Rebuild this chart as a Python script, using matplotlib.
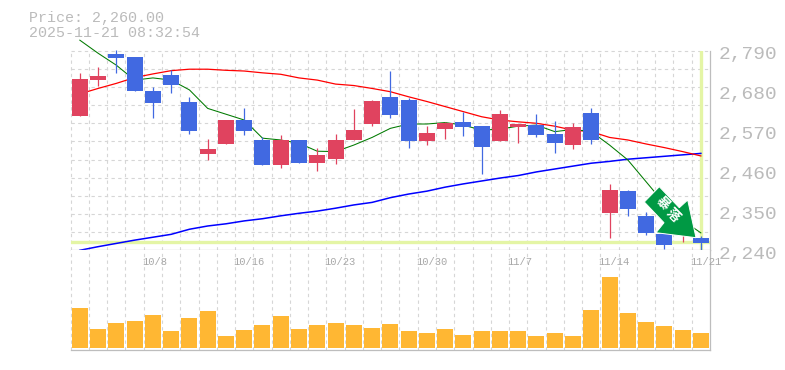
import matplotlib
matplotlib.use("Agg")
import matplotlib.pyplot as plt
import matplotlib.patches as mpatches
import matplotlib.transforms as mtrans
import numpy as np

plt.rcParams['font.family'] = ['Liberation Mono', 'DejaVu Sans Mono']

opens = [2610, 2709, 2781, 2772, 2679, 2723, 2649, 2505, 2533, 2599, 2544, 2475,
         2544, 2480, 2491, 2544, 2588, 2662, 2654, 2541, 2574, 2593, 2582, 2541,
         2580, 2585, 2560, 2530, 2618, 2343, 2403, 2334, 2285, 2285, 2274]
closes = [2712, 2720, 2770, 2679, 2646, 2695, 2569, 2519, 2599, 2569, 2475, 2544,
          2480, 2503, 2544, 2571, 2651, 2613, 2541, 2563, 2591, 2580, 2525, 2615,
          2588, 2558, 2535, 2580, 2544, 2406, 2354, 2288, 2255, 2300, 2260]
highs = [2728, 2745, 2792, 2772, 2690, 2737, 2662, 2547, 2599, 2632, 2552, 2558,
         2544, 2522, 2560, 2629, 2654, 2734, 2660, 2582, 2593, 2621, 2582, 2626,
         2588, 2615, 2596, 2591, 2632, 2423, 2406, 2345, 2285, 2310, 2280]
lows = [2610, 2693, 2728, 2679, 2604, 2673, 2560, 2489, 2533, 2558, 2475, 2467,
        2480, 2458, 2478, 2544, 2582, 2604, 2522, 2530, 2547, 2555, 2450, 2541,
        2535, 2552, 2508, 2519, 2533, 2273, 2334, 2282, 2243, 2263, 2241]
volumes = [40, 19, 25, 27, 33, 17, 30, 37, 12, 18, 23, 32, 19, 23, 25, 23, 20, 24,
           17, 15, 19, 13, 17, 17, 17, 12, 15, 12, 38, 71, 35, 26, 22, 18, 15]

ma_green = [2819, 2783, 2750, 2709, 2715, 2709, 2682, 2631, 2615, 2599, 2549, 2544,
            2535, 2513, 2512, 2530, 2551, 2576, 2588, 2588, 2592, 2585, 2571, 2574,
            2582, 2585, 2567, 2573, 2567, 2530, 2489, 2429, 2369, 2323, 2288]
ma_red = [2671, 2686, 2700, 2716, 2726, 2735, 2739, 2739, 2736, 2734, 2729, 2725,
          2715, 2709, 2698, 2694, 2686, 2677, 2663, 2650, 2636, 2622, 2608, 2599,
          2594, 2590, 2582, 2571, 2567, 2551, 2544, 2533, 2523, 2512, 2500]
ma_blue = [2240, 2250, 2259, 2268, 2276, 2284, 2298, 2307, 2313, 2321, 2327, 2335,
           2342, 2348, 2356, 2365, 2372, 2385, 2395, 2403, 2414, 2423, 2431, 2439,
           2446, 2456, 2464, 2472, 2480, 2485, 2491, 2495, 2499, 2503, 2507]

price_labels = [2240, 2350, 2460, 2570, 2680, 2790]
date_idx = [4, 9, 14, 19, 24, 29, 34]
date_labels = ["10/8", "10/16", "10/23", "10/30", "11/7", "11/14", "11/21"]
current_price = 2260

GRID = "#d6d6d6"
FRAME = "#bdbdbd"
TEXT = "#bbbbbb"
RED = "#e0435f"
BLUE = "#4169e1"
LIME = "#e4f5a5"
DASH = (0, (3, 3))

W, H = 785, 370
fig = plt.figure(figsize=(W / 100, H / 100), dpi=100, facecolor="white")


def px_rect(left, top, right, bottom):
    return [left / W, 1 - bottom / H, (right - left) / W, (bottom - top) / H]


ax = fig.add_axes(px_rect(70.7, 50.7, 710, 250.3))
vol = fig.add_axes(px_rect(70.7, 250.3, 710, 350), sharex=ax)
xs = np.arange(len(opens))

for a in (ax, vol):
    a.set_xlim(-0.5, 34.5)
    a.set_xticks(xs[:-1] + 0.5, minor=True)
    a.set_xticks([])
    a.set_axisbelow(True)
    a.grid(True, axis="x", which="minor", color=GRID, lw=0.8, ls=DASH)
    a.tick_params(which="both", length=0, labelbottom=False, labelleft=False)
    for s in ("top", "left"):
        a.spines[s].set_visible(False)
    a.spines["right"].set_color(FRAME)
    a.spines["bottom"].set_color(FRAME)
    a.spines["right"].set_linewidth(0.9)
    a.spines["bottom"].set_linewidth(0.9)
    # dashed left edge, like the other vertical grid lines
    a.axvline(-0.5, color=GRID, lw=0.8, ls=DASH, zorder=0.5, clip_on=False)

# Price panel
ax.set_ylim(2240, 2790)
ax.set_yticks(np.arange(2240, 2791, 50), minor=True)
ax.grid(True, axis="y", which="minor", color=GRID, lw=0.8, ls=DASH)
ax.axhline(2790, color=GRID, lw=0.8, ls=DASH, zorder=0.5, clip_on=False)
ax.yaxis.tick_right()
ax.set_yticks(price_labels)
ax.set_yticklabels([f"{p:,}" for p in price_labels], fontsize=14, color=TEXT)
ax.tick_params(axis="y", which="major", pad=6.5, labelright=True, labelleft=False)
down = mtrans.ScaledTranslation(0, -2 / 100, fig.dpi_scale_trans)
for lab in ax.get_yticklabels():
    lab.set_transform(lab.get_transform() + down)

ax.axhline(current_price + 2, color=LIME, lw=2.4, zorder=1)
ax.axvline(xs[-1], color=LIME, lw=2.4, zorder=1)

ax.plot(xs, ma_blue, color="#0000ff", lw=1.1, zorder=2)
ax.plot(xs, ma_red, color="#ff0000", lw=0.9, zorder=2)
ax.plot(xs, ma_green, color="#007a00", lw=0.75, zorder=2, clip_on=False)

colors = [RED if c >= o else BLUE for o, c in zip(opens, closes)]
ax.vlines(xs, lows, highs, colors=colors, lw=0.9, zorder=3, clip_on=False)
tops = np.maximum(opens, closes)
bots = np.minimum(opens, closes)
ax.bar(xs, tops - bots, bottom=bots, width=0.875, color=colors, zorder=4, linewidth=0)

# Volume panel
vol.set_ylim(-2, 97.7)
vol.set_yticks([])
vol.bar(xs, volumes, width=0.875, color="#ffb733", zorder=3, linewidth=0)
for i, lab in zip(date_idx, date_labels):
    vol.annotate(lab, xy=(i, 1), xycoords=vol.get_xaxis_transform(),
                 xytext=(-7.9, -8.6), textcoords="offset points",
                 ha="left", va="center", fontsize=7.6, color="#a8a8a8")

# Signal arrow, sits over the candles
arrow_px = [(659.3, 186.7), (644.3, 202), (664, 222.7), (656, 232.7),
            (696, 237.7), (687.7, 200), (679.3, 207.7)]
arrow_fig = [(x / W, 1 - y / H) for x, y in arrow_px]
fig.add_artist(mpatches.Polygon(arrow_fig, closed=True, transform=fig.transFigure,
                                facecolor="#009944", edgecolor="white", lw=0.7, zorder=10))
for ch, x, y in [("暴", 663, 203), ("落", 672.5, 215)]:
    fig.text(x / W, 1 - y / H, ch, color="white", fontsize=9.5, fontweight="bold",
             rotation=-45, ha="center", va="center", rotation_mode="anchor",
             family=["Noto Sans CJK JP", "DejaVu Sans"], zorder=11)

fig.text(29 / W, 1 - 18 / H, f"Price: {current_price:,}.00", fontsize=10.8, color=TEXT, va="center")
fig.text(29 / W, 1 - 33 / H, "2025-11-21 08:32:54", fontsize=10.8, color=TEXT, va="center")

fig.savefig("out.png", dpi=100)
